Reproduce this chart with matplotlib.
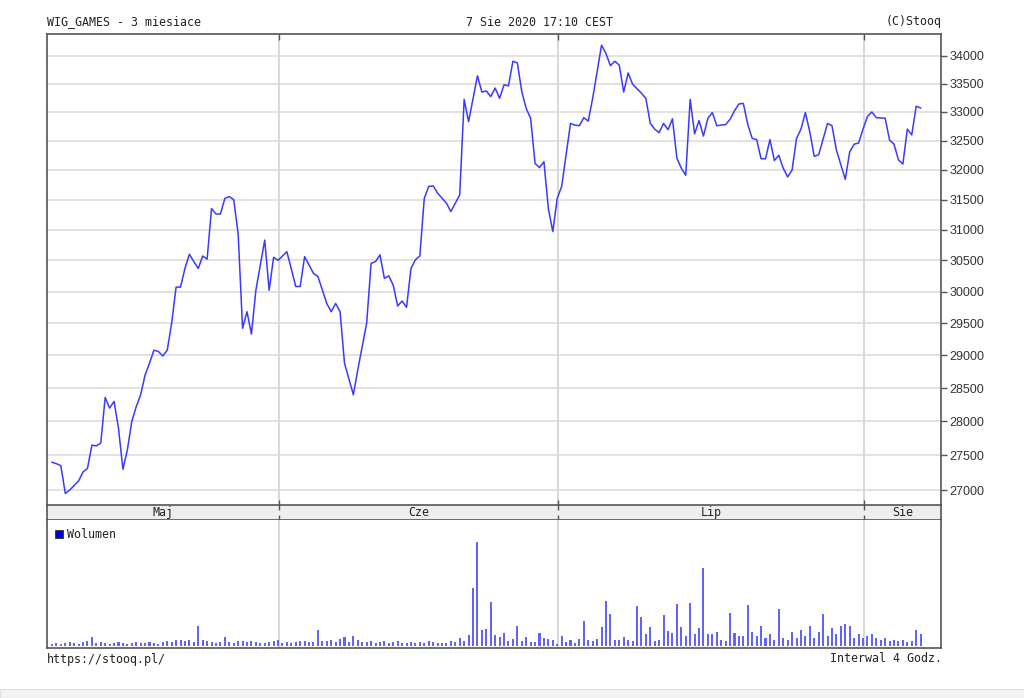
import matplotlib
matplotlib.use('Agg')
import matplotlib.pyplot as plt
from matplotlib.patches import Rectangle
from matplotlib.ticker import FixedLocator, NullLocator

# ---------------- data ----------------
title_left = "WIG_GAMES - 3 miesiace"
title_mid = "7 Sie 2020 17:10 CEST"
title_right = "(C)Stooq"
footer_left = "https://stooq.pl/"
footer_right = "Interwal 4 Godz."
volume_label = "Wolumen"

months = ["Maj", "Cze", "Lip", "Sie"]
month_breaks = [51.2, 114.2, 183.2]          # bar index where a new month starts

price_ticks = list(range(27000, 34001, 500))

# price line (bar index, close)
bar_idx = [0, 1, 2, 3, 4, 6, 7, 8, 9, 10, 11, 12, 13, 14, 15, 16, 17, 18, 19, 20,
           21, 22, 23, 24, 25, 26, 27, 28, 29, 30, 31, 32, 33, 34, 35, 36, 37, 38, 39, 40,
           41, 42, 43, 44, 45, 46, 48, 49, 50, 51, 53, 55, 56, 57, 59, 60, 62, 63, 64, 65,
           66, 68, 69, 71, 72, 73, 74, 75, 76, 77, 78, 79, 80, 81, 82, 83, 84, 85, 86, 87,
           89, 90, 91, 92, 93, 94, 96, 97, 98, 99, 100, 101, 102, 103, 104, 105, 106, 107, 108, 109,
           110, 111, 112, 113, 114, 115, 117, 118, 119, 120, 121, 122, 124, 125, 126, 127, 128, 129, 130, 131,
           133, 134, 135, 136, 137, 138, 139, 140, 141, 142, 143, 144, 145, 146, 147, 148, 149, 150, 152, 153,
           154, 155, 156, 157, 158, 159, 160, 161, 162, 163, 164, 165, 166, 167, 168, 169, 170, 171, 172, 173,
           175, 176, 177, 179, 180, 181, 182, 183, 184, 185, 186, 188, 189, 190, 191, 192, 193, 194, 195, 196]
close = [27400, 27380, 27350, 26950, 27000, 27130, 27260, 27310, 27650, 27640, 27680, 28360, 28200, 28300, 27900, 27300, 27580, 28000, 28220, 28400,
         28700, 28880, 29080, 29060, 28990, 29080, 29500, 30070, 30070, 30370, 30600, 30480, 30370, 30570, 30520, 31350, 31260, 31260, 31520, 31550,
         31500, 30940, 29420, 29680, 29330, 30020, 30830, 30020, 30550, 30500, 30640, 30080, 30080, 30560, 30290, 30240, 29810, 29680, 29810, 29680,
         28880, 28400, 28780, 29500, 30450, 30480, 30590, 30210, 30250, 30100, 29770, 29850, 29750, 30370, 30510, 30570, 31520, 31720, 31730, 31610,
         31440, 31300, 31440, 31580, 33220, 32830, 33640, 33350, 33370, 33270, 33420, 33240, 33480, 33460, 33900, 33870, 33360, 33060, 32890, 32110,
         32040, 32140, 31350, 30970, 31520, 31720, 32800, 32770, 32760, 32900, 32840, 33240, 34190, 34040, 33820, 33900, 33830, 33350, 33690, 33490,
         33330, 33240, 32800, 32700, 32640, 32800, 32690, 32880, 32200, 32030, 31910, 33220, 32620, 32850, 32580, 32890, 32990, 32760, 32780, 32870,
         33020, 33140, 33150, 32780, 32540, 32520, 32190, 32190, 32520, 32160, 32250, 32030, 31880, 32000, 32540, 32700, 32990, 32650, 32230, 32260,
         32800, 32760, 32340, 31840, 32310, 32440, 32460, 32700, 32920, 33000, 32900, 32890, 32510, 32440, 32170, 32100, 32700, 32600, 33100, 33070]

# volume per bar (arbitrary units)
volume = [2, 3, 2, 3, 4, 3, 2, 4, 5, 9, 3, 4, 3, 2, 3, 4, 3, 2, 3, 4,
          3, 3, 4, 3, 2, 4, 5, 4, 6, 6, 5, 6, 4, 20, 6, 5, 4, 3, 4, 9,
          4, 3, 5, 5, 4, 5, 4, 3, 3, 4, 5, 6, 3, 4, 3, 4, 5, 5, 4, 4,
          16, 5, 5, 6, 4, 7, 9, 4, 10, 6, 4, 4, 5, 3, 4, 5, 3, 4, 5, 3,
          3, 4, 3, 4, 3, 5, 4, 3, 3.3, 3.3, 5, 3.7, 8.3, 5.3, 11, 58, 104, 16, 17, 44,
          11, 9.3, 13, 5, 7.3, 20, 5.3, 8.7, 3.7, 3.7, 13, 7.7, 7, 6, 2, 10, 3.7, 6, 3.3, 7.3,
          25, 6, 5.3, 7.3, 19, 45, 32, 6, 6, 9.3, 6, 5, 40, 29, 11.7, 19, 5, 6, 30.7, 15.3,
          12.7, 41.7, 19.3, 10, 42.7, 11.7, 17.7, 78, 12, 12, 14.3, 6, 5, 33, 13.3, 10, 10, 41, 14, 10,
          20, 8, 12, 6, 37, 8, 6, 14, 8, 16, 10, 20, 8, 14, 32, 10, 18, 12, 20, 22,
          20, 8, 12, 8, 10, 12, 8, 6, 8, 5, 6, 5, 6, 4, 5, 16, 12]

# ---------------- style / layout ----------------
W, H = 1024, 698
fig = plt.figure(figsize=(W / 100, H / 100), dpi=100)
fig.patch.set_facecolor('white')

def ax_px(x0, y0, x1, y1):
    return fig.add_axes([x0 / W, 1 - y1 / H, (x1 - x0) / W, (y1 - y0) / H])

XMIN, XMAX = -1.13, 200.6
FRAME = '#555555'
GRID = '#e2e2e2'
LINE = '#3a3aff'
BAR = '#6262ff'
MONO = ['DejaVu Sans Mono']
SANS = ['Liberation Sans', 'DejaVu Sans']

# price panel
ax = ax_px(47, 33.5, 941, 505)
ax.set_yscale('log')
ax.set_xlim(XMIN, XMAX)
ax.set_ylim(26786, 34403)
ax.yaxis.set_major_locator(FixedLocator(price_ticks))
ax.yaxis.set_minor_locator(NullLocator())
ax.set_yticklabels([str(t) for t in price_ticks], fontfamily=SANS, fontsize=9, color='#333333')
ax.yaxis.tick_right()
ax.tick_params(axis='y', which='major', direction='out', length=4, width=1, color=FRAME, pad=2)
ax.set_xticks(month_breaks)
ax.set_xticklabels([])
ax.tick_params(axis='x', top=True, bottom=False, direction='in', length=4, width=1, color=FRAME)
for t in price_ticks:
    ax.axhline(t, color=GRID, lw=1.4, zorder=0)
for b in month_breaks:
    ax.axvline(b, color='#d8d8d8', lw=1.4, zorder=0)
ax.plot(bar_idx, close, color=LINE, lw=1.1, zorder=3)
for s in ['left', 'right', 'top']:
    ax.spines[s].set_color(FRAME)
    ax.spines[s].set_linewidth(1.2)
ax.spines['bottom'].set_visible(False)

# month band
band = ax_px(47, 505, 941, 520)
band.set_facecolor('#eeeeee')
band.set_xlim(XMIN, XMAX)
band.set_ylim(0, 1)
band.set_yticks([])
band.set_xticks(month_breaks)
band.set_xticklabels([])
band.tick_params(axis='x', top=True, bottom=True, direction='inout', length=7, width=1, color=FRAME)
for s in band.spines.values():
    s.set_color(FRAME)
    s.set_linewidth(1.2)
edges = [XMIN] + month_breaks + [XMAX]
for i, m in enumerate(months):
    band.text((edges[i] + edges[i + 1]) / 2, 0.5, m, ha='center', va='center',
              fontfamily=MONO, fontsize=8.4, color='#222222')

# volume panel
vax = ax_px(47, 520, 941, 648)
vax.set_xlim(XMIN, XMAX)
vax.set_ylim(-2, 126)
vax.set_yticks([])
vax.set_xticks([])
for b in month_breaks:
    vax.axvline(b, color='#d8d8d8', lw=1.4, zorder=0)
vax.bar(range(len(volume)), volume, width=0.46, color=BAR, zorder=2)
for s in ['left', 'right', 'bottom']:
    vax.spines[s].set_color(FRAME)
    vax.spines[s].set_linewidth(1.2)
vax.spines['top'].set_visible(False)
vax.add_patch(Rectangle((0.0095, 0.86), 0.0085, 0.062, transform=vax.transAxes,
                        facecolor='#0000cc', edgecolor='#333333', lw=0.6, zorder=4))
vax.text(0.022, 0.89, volume_label, transform=vax.transAxes, ha='left', va='center',
         fontfamily=MONO, fontsize=8.4, color='#222222')

# header / footer texts
fig.text(47 / W, 1 - 22 / H, title_left, ha='left', va='center', fontfamily=MONO, fontsize=8.4, color='#222222')
fig.text(540 / W, 1 - 22 / H, title_mid, ha='center', va='center', fontfamily=MONO, fontsize=8.4, color='#222222')
fig.text(942 / W, 1 - 22 / H, title_right, ha='right', va='center', fontfamily=MONO, fontsize=8.4, color='#222222')
fig.text(47 / W, 1 - 659 / H, footer_left, ha='left', va='center', fontfamily=MONO, fontsize=8.4, color='#222222')
fig.text(942 / W, 1 - 659 / H, footer_right, ha='right', va='center', fontfamily=MONO, fontsize=8.4, color='#222222')

# light strip at the bottom of the screenshot
fig.patches.append(Rectangle((0, 0), 1, 9 / H, transform=fig.transFigure, facecolor='#f3f3f3',
                             edgecolor='#e0e0e0', lw=0.8))

fig.savefig('out.png', dpi=100, facecolor='white')
